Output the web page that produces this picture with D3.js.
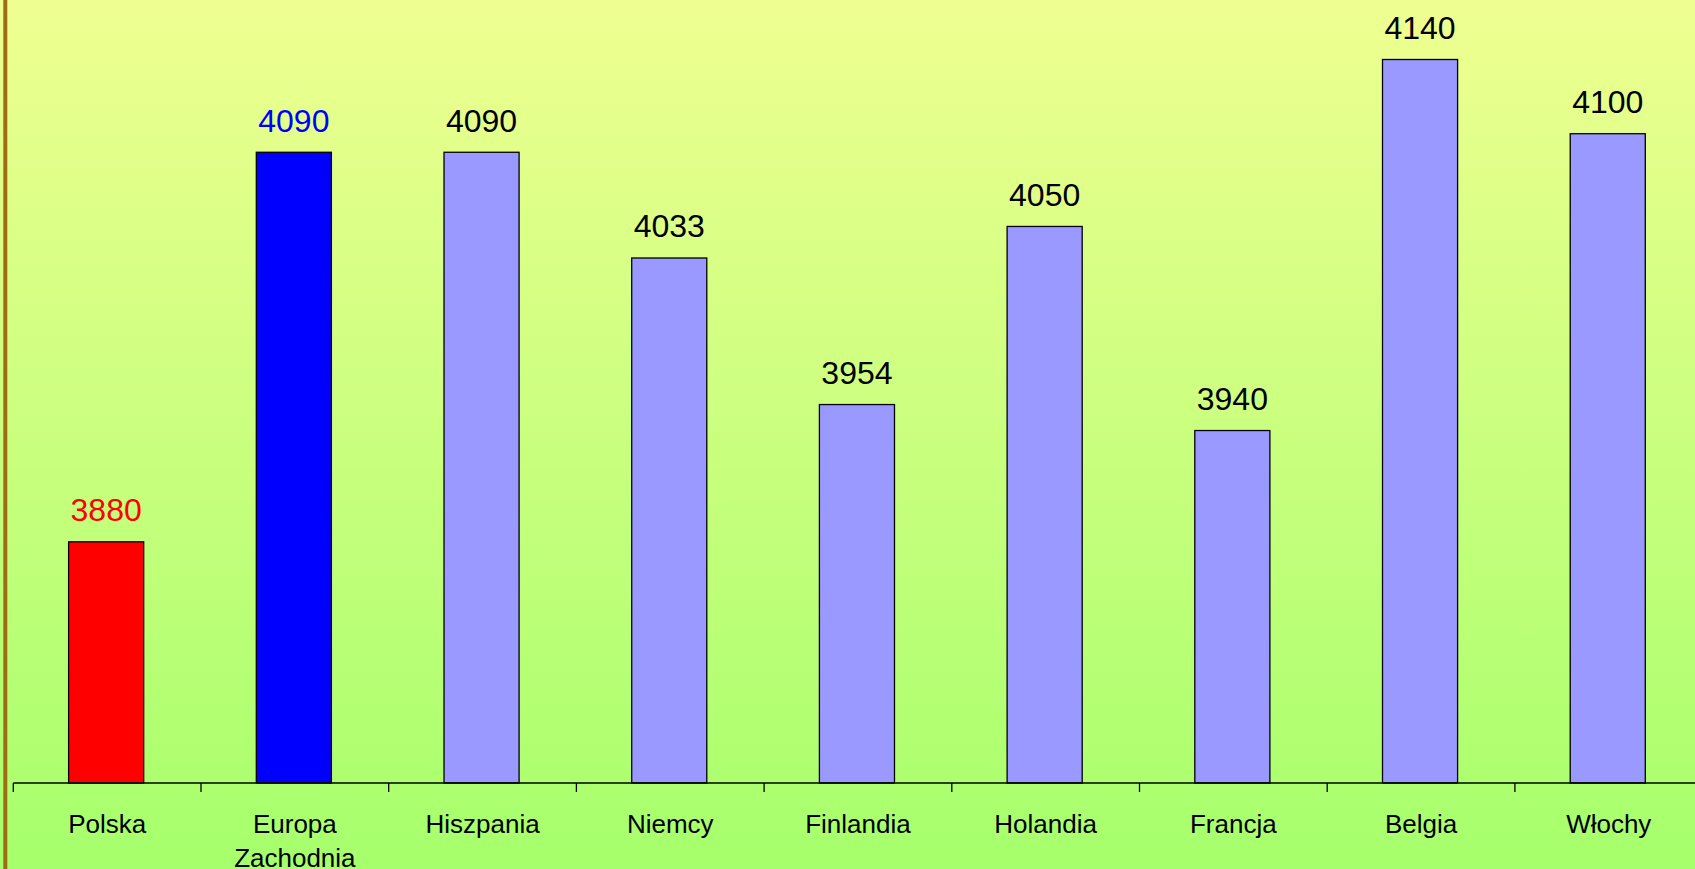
<!DOCTYPE html>
<html>
<head>
<meta charset="utf-8">
<script src="https://cdn.jsdelivr.net/npm/d3@7"></script>
<style>
html, body { margin: 0; padding: 0; overflow: hidden; }
svg { display: block; }
</style>
</head>
<body>
<svg id="chart" width="1695" height="869"></svg>
<script>
const categories = ["Polska", "Europa Zachodnia", "Hiszpania", "Niemcy", "Finlandia", "Holandia", "Francja", "Belgia", "Włochy"];
const values = [3880, 4090, 4090, 4033, 3954, 4050, 3940, 4140, 4100];
const barColors = ["#FF0000", "#0000FF", "#9999FF", "#9999FF", "#9999FF", "#9999FF", "#9999FF", "#9999FF", "#9999FF"];
const labelColors = ["#FF0000", "#0000FF", "#000000", "#000000", "#000000", "#000000", "#000000", "#000000", "#000000"];

const W = 1695, H = 869;
const svg = d3.select("#chart");

const defs = svg.append("defs");
const grad = defs.append("linearGradient").attr("id", "bg").attr("x1", 0).attr("y1", 0).attr("x2", 0).attr("y2", 1);
grad.append("stop").attr("offset", "0%").attr("stop-color", "#EFFF91");
grad.append("stop").attr("offset", "100%").attr("stop-color", "#A6FF6C");

svg.append("rect").attr("width", W).attr("height", H).attr("fill", "url(#bg)");
// left brown border
svg.append("rect").attr("x", 3.3).attr("y", 0).attr("width", 4).attr("height", H).attr("fill", "#9E6C12");

const x0 = 13.3, step = 187.7;
const x = d3.scaleBand().domain(categories).range([x0, x0 + step * categories.length]).paddingInner(0.6).paddingOuter(0.3);
const y = d3.scaleLinear().domain([3750, 4140]).range([783, 59.5]);
const baseY = y(3750);

const font = "'Liberation Sans', Arial, Helvetica, sans-serif";

// bars
svg.append("g").selectAll("rect").data(categories).join("rect")
  .attr("x", d => x(d) - 1)
  .attr("y", (d, i) => y(values[i]))
  .attr("width", x.bandwidth())
  .attr("height", (d, i) => baseY - y(values[i]))
  .attr("fill", (d, i) => barColors[i])
  .attr("stroke", "#000")
  .attr("stroke-width", 1.3);

// value labels
svg.append("g").selectAll("text").data(categories).join("text")
  .attr("x", d => x(d) - 1 + x.bandwidth() / 2)
  .attr("y", (d, i) => y(values[i]) - 20.5)
  .attr("text-anchor", "middle")
  .attr("font-family", font)
  .attr("font-size", 32)
  .attr("fill", (d, i) => labelColors[i])
  .text((d, i) => values[i]);

// axis line
svg.append("line").attr("x1", x0).attr("x2", x0 + step * categories.length)
  .attr("y1", baseY).attr("y2", baseY).attr("stroke", "#000").attr("stroke-width", 1.5);

// ticks at category boundaries
const boundaries = d3.range(categories.length + 1).map(k => x(categories[0]) - x.step() * x.paddingOuter() - (x.step() * x.paddingInner()) / 2 + x.step() * x.paddingInner() / 2 + k * x.step());
svg.append("g").selectAll("line").data(boundaries).join("line")
  .attr("x1", d => d).attr("x2", d => d)
  .attr("y1", baseY).attr("y2", baseY + 9)
  .attr("stroke", "#000").attr("stroke-width", 1.3);

// category labels
const catG = svg.append("g").selectAll("text").data(categories).join("text")
  .attr("x", d => x(d) + x.bandwidth() / 2)
  .attr("y", 832.7)
  .attr("text-anchor", "middle")
  .attr("font-family", font)
  .attr("font-size", 26)
  .attr("fill", "#000");
catG.each(function(d) {
  const words = d.split(" ");
  const t = d3.select(this);
  words.forEach((w, i) => {
    t.append("tspan").attr("x", x(d) + x.bandwidth() / 2).attr("dy", i === 0 ? 0 : 34.5).text(w);
  });
});
</script>
</body>
</html>
